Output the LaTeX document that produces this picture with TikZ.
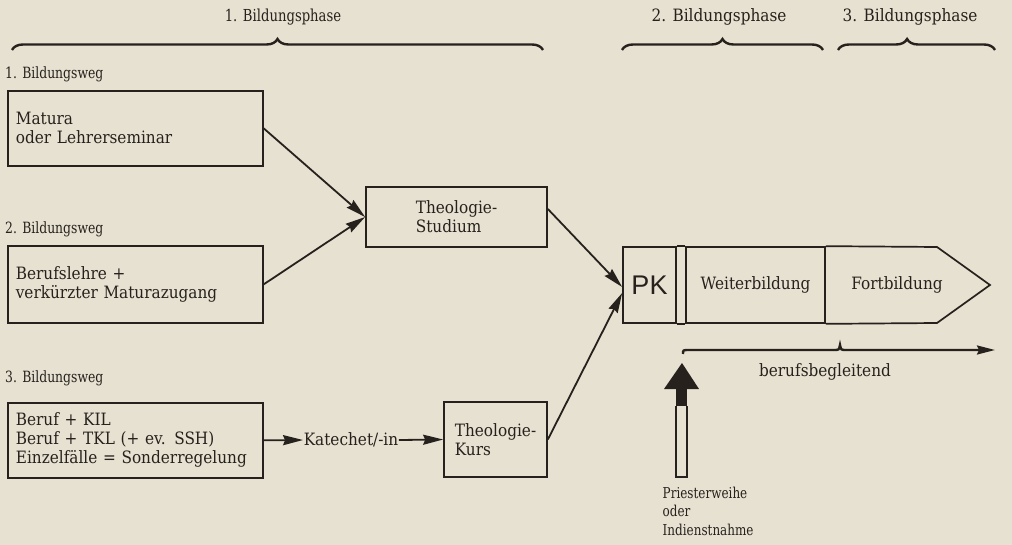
\documentclass[tikz,border=0pt]{standalone}
\usepackage{fontspec}
\setmainfont{DejaVu Serif}[FakeStretch=0.9]
\newfontfamily\narrowfont{DejaVu Serif}[FakeStretch=0.8]
\newfontfamily\pkfont{Liberation Sans}
\usetikzlibrary{arrows.meta,positioning,decorations.pathreplacing}
\definecolor{paper}{RGB}{231,225,209}
\definecolor{ink}{RGB}{38,33,28}
\tikzset{
  txt/.style     = {text=ink, inner sep=0.5pt, font=\fontsize{17}{19}\selectfont},
  basic/.style   = {txt, draw=ink, line width=1.7pt},
  wegbox/.style  = {basic, anchor=north west, inner xsep=8pt, text width=239pt,
                    minimum height=75pt, align=left},
  weglabel/.style = {txt, inner sep=0pt, font=\narrowfont\fontsize{15.5}{17}\selectfont},
  phase/.style   = {txt},
  klammer/.style = {draw=ink, line width=2.4pt, decorate,
                    decoration={brace, amplitude=11pt}},
  flow/.style    = {draw=ink, line width=1.8pt, -{Stealth[length=20pt, width=10pt, inset=2pt]}}
}
\begin{document}
\begin{tikzpicture}[x=1pt, y=-1pt]
\fill[paper] (0,0) rectangle (1012,545);
\useasboundingbox (0,0) rectangle (1012,545);

% Bildungsphasen mit Klammern
\node[phase, font=\narrowfont\fontsize{16.5}{18}\selectfont] (ph1) at (283,17) {1. Bildungsphase};
\node[phase] (ph2) at (719,17) {2. Bildungsphase};
\node[phase] (ph3) at (910,17) {3. Bildungsphase};
\draw[klammer] (12,50) -- (543,50);
\draw[klammer] (622,50) -- (823,50);
\draw[klammer, decoration={aspect=0.44}] (838,50) -- (995,50);

% die drei Bildungswege
\node[wegbox] (weg1) at (7,90) {Matura\\oder Lehrerseminar};
\node[wegbox, minimum height=77pt] (weg2) at (7,245) {Berufslehre +\\verkürzter Maturazugang};
\node[wegbox] (weg3) at (7,402) {Beruf + KIL\\Beruf + TKL (+ ev. SSH)\\Einzelfälle = Sonderregelung};

\node[weglabel, above right=8pt and -2pt of weg1.north west] (lab1) {1. Bildungsweg};
\node[weglabel, above right=8pt and -2pt of weg2.north west] (lab2) {2. Bildungsweg};
\node[weglabel, above right=16pt and -2pt of weg3.north west] (lab3) {3. Bildungsweg};

% Theologie
\node[basic, minimum width=181pt, minimum height=60pt, align=left] (ts) at (456.5,217) {Theologie-\\Studium};
\node[basic, minimum width=103pt, minimum height=75pt, align=left] (tk) at (495.5,439.5) {Theologie-\\Kurs};
\node[txt] (kat) at (351,440) {Katechet/-in};

% PK, Weiter- und Fortbildung
\node[basic, font=\pkfont\fontsize{27}{27}\selectfont, minimum width=53pt, minimum height=76pt] (pk) at (649.5,285) {PK};
\node[basic, minimum width=139pt, minimum height=76pt] (wb) at (755.5,285) {Weiterbildung};
\draw[ink, line width=1.7pt] (pk.north east) -- (wb.north west) (pk.south east) -- (wb.south west);
\draw[ink, line width=1.7pt] (wb.north east) -- (937,247) -- (990,285) -- (937,323) -- (wb.south east);
\node[txt] (fb) at (897,285) {Fortbildung};

\foreach \n in {1,2}
  \draw[flow] (weg\n.east) -- (ts.west);
\draw[flow] (weg3.east) -- (kat.west);
\draw[flow] (kat.east) -- (tk.west);
\draw[flow] ([yshift=8pt]ts.east) -- ([yshift=-2pt]pk.west);
\draw[flow] (tk.east) -- ([yshift=-8pt]pk.west);

% berufsbegleitend
\coordinate (bb0) at (683,354);
\coordinate (bb1) at (995,350);
\draw[ink, line width=2.4pt, -{Stealth[length=18pt, width=9pt, inset=2pt]}]
  (bb0) .. controls (683,350) .. (689,350) -- (834,350)
  .. controls (839,350) .. (840,345) .. controls (841,350) .. (846,350) -- (bb1);
\node[txt] (bb) at (825,372) {berufsbegleitend};

% Priesterweihe
\node[txt, font=\narrowfont\fontsize{15}{18.5}\selectfont, align=left, anchor=north west] (pw) at (662,486) {Priesterweihe\\oder\\Indienstnahme};
\fill[ink] (664,389) -- (682,363) -- (699,389) -- cycle;
\fill[ink] (676,388) rectangle (687,406);
\draw[ink, line width=1.4pt] (676,406) -- (676,477) -- (687,477) -- (687,406);
\end{tikzpicture}
\end{document}
